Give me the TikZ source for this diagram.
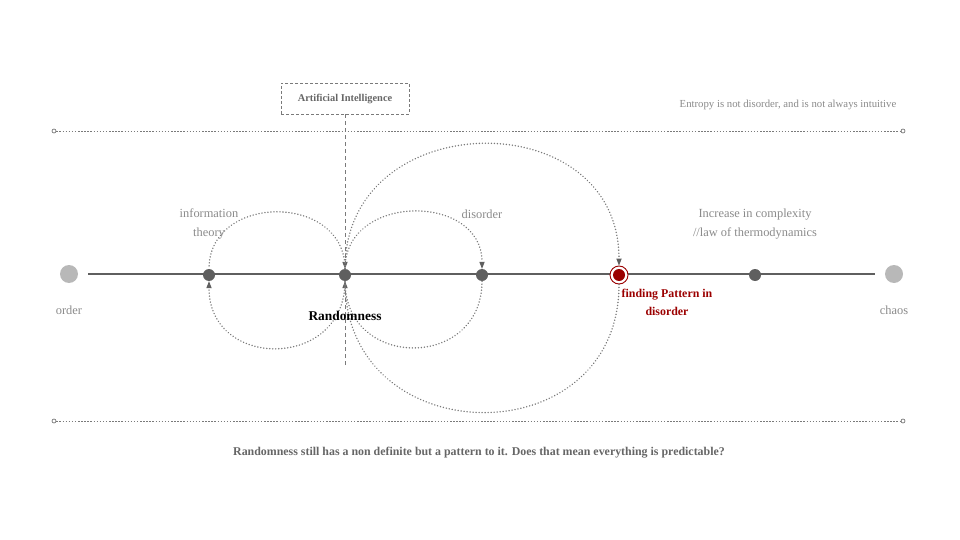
\documentclass[tikz,border=0pt]{standalone}
\usepackage{fontspec}
\setmainfont{Liberation Serif}
\usetikzlibrary{arrows.meta}
\definecolor{lblc}{HTML}{8A8A8A}
\definecolor{dk}{HTML}{5F5F5F}
\definecolor{endc}{HTML}{B8B8B8}
\definecolor{redc}{HTML}{9B0000}
\definecolor{crv}{HTML}{7A7A7A}
\definecolor{txtd}{HTML}{666666}
\begin{document}
\begin{tikzpicture}[x=1pt,y=-1pt,
  dot/.style={circle,fill=dk,minimum size=12pt,inner sep=0pt},
  enddot/.style={circle,fill=endc,minimum size=18pt,inner sep=0pt},
  lbl/.style={text=lblc,font=\fontsize{12.4}{19}\selectfont,align=center},
  curve/.style={crv,line width=1.6pt,line cap=round,dash pattern=on 0.01pt off 3pt},
  tip/.style={-{Triangle[length=7pt,width=5.5pt,line width=0pt,fill=dk]}},
  guide/.style={crv,line width=0.8pt,dash pattern=on 1.5pt off 1.6pt},
  guideend/.style={circle,draw=dk,fill=white,line width=0.6pt,minimum size=4pt,inner sep=0pt},
  vdash/.style={crv,line width=0.9pt,dash pattern=on 4pt off 3pt}]
\useasboundingbox (0,0) rectangle (960,540);
% guide lines
\node[guideend] (tl) at (54,131) {};
\node[guideend] (tr) at (903,131) {};
\node[guideend] (bl) at (54,421) {};
\node[guideend] (br) at (903,421) {};
\draw[guide] (tl) -- (tr);
\draw[guide] (bl) -- (br);
% ends and main line
\node[enddot] (order) at (69,274) {};
\node[enddot] (chaos) at (894,274) {};
\draw[dk,line width=1.1pt,shorten <=10pt,shorten >=10pt] (order) -- (chaos);
\node[dot] (n1) at (209,275) {};
\node[dot] (rnd) at (345,275) {};
\node[dot] (n3) at (482,275) {};
\node[circle,draw=redc,fill=white,line width=0.9pt,minimum size=18pt,inner sep=0pt] (ring) at (619,275) {};
\node[circle,fill=redc,minimum size=12pt,inner sep=0pt] (n4) at (ring) {};
\node[dot] (n5) at (755,275) {};
% AI box
\node[draw=crv,dash pattern=on 3pt off 2pt,line width=0.7pt,minimum width=128pt,minimum height=31pt,text=txtd,font=\bfseries\fontsize{10.4}{12}\selectfont] (ai) at (345,98.5) {Artificial Intelligence};
\coordinate (dend) at (345,365);
\draw[vdash,tip] (ai.south) -- (rnd.north);
\draw[vdash,tip] (dend) -- (rnd.south);
% loops
\draw[curve] (rnd.north) .. controls +(0,-76) and +(0,-76) .. (n1.north);
\draw[curve,tip] (rnd.south) .. controls +(0,89) and +(0,89) .. (n1.south);
\draw[curve,tip] (rnd.north) .. controls +(0,-76) and +(0,-76) .. (n3.north);
\draw[curve] (n3.south) .. controls +(0,89) and +(0,89) .. (rnd.south);
\draw[curve,tip] (rnd.north) .. controls +(0,-164) and +(0,-164) .. (ring.north);
\draw[curve] (ring.south) .. controls +(0,173) and +(0,173) .. (rnd.south);
% labels
\node[lbl] (linfo) at (209,224) {information\\theory};
\node[lbl] (ldis) at (482,214) {disorder};
\node[lbl] (lcomp) at (755,224) {Increase in complexity\\//law of thermodynamics};
\node[lbl] (lorder) at (69,310) {order};
\node[lbl] (lchaos) at (894,310) {chaos};
\node[font=\bfseries\fontsize{13.4}{15}\selectfont] (lrnd) at (345,316) {Randomness};
\node[text=redc,font=\bfseries\fontsize{11.9}{18}\selectfont,align=center] (lfind) at (667,302) {finding Pattern in\\disorder};
\node[text=lblc,font=\fontsize{10.75}{12}\selectfont] (entropy) at (788,105) {Entropy is not disorder, and is not always intuitive};
\node[text=txtd,font=\bfseries\fontsize{11.9}{14}\selectfont] (bottom) at (479,453) {Randomness still has a non definite but a pattern to it. Does that mean everything is predictable?};
\end{tikzpicture}
\end{document}
